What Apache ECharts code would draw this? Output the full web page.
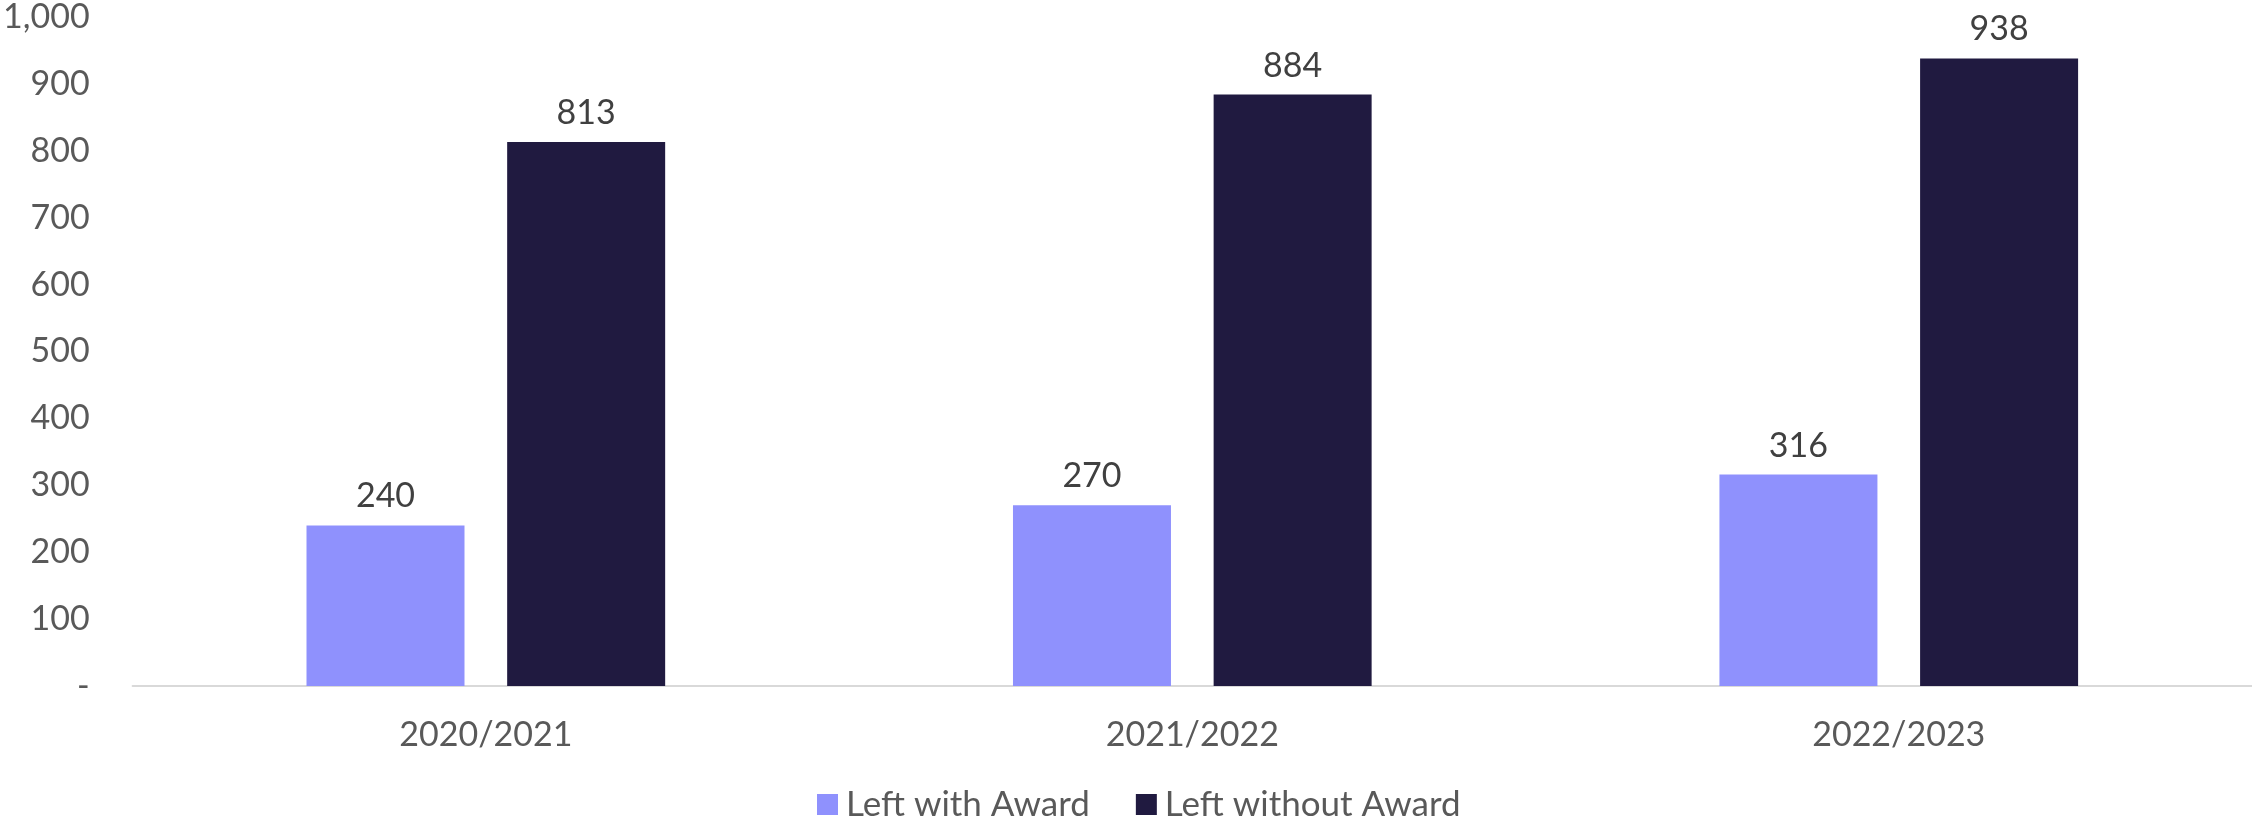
<!DOCTYPE html>
<html>
<head>
<meta charset="utf-8">
<script src="https://cdn.jsdelivr.net/npm/echarts@6/dist/echarts.min.js"></script>
<style>
html,body{margin:0;padding:0;background:#fff;}
#chart{width:2252px;height:820px;}
</style>
</head>
<body>
<div id="chart"></div>
<script>
const categories = ['2020/2021', '2021/2022', '2022/2023'];
const seriesNames = ['Left with Award', 'Left without Award'];
const leftWithAward = [240, 270, 316];
const leftWithoutAward = [813, 884, 938];
const yTicks = [0, 100, 200, 300, 400, 500, 600, 700, 800, 900, 1000];

const FONT = 'Lato';
const chart = echarts.init(document.getElementById('chart'), null, {renderer: 'canvas'});
chart.setOption({
  animation: false,
  backgroundColor: '#ffffff',
  textStyle: {fontFamily: FONT},
  grid: {left: 131, right: 0, top: 15.5, bottom: 134, containLabel: false},
  legend: {
    data: seriesNames,
    left: 812,
    top: 782,
    itemWidth: 21,
    itemHeight: 21,
    itemGap: 46,
    icon: 'rect',
    textStyle: {color: '#595959', fontSize: 35, fontFamily: FONT, padding: [0, 0, 0, 3]}
  },
  xAxis: {
    type: 'category',
    data: categories,
    axisLine: {show: true, lineStyle: {color: '#d9d9d9', width: 2}},
    axisTick: {show: false},
    axisLabel: {color: '#595959', fontSize: 34, fontFamily: FONT, margin: 32}
  },
  yAxis: {
    type: 'value',
    min: yTicks[0],
    max: yTicks[yTicks.length - 1],
    interval: 100,
    splitLine: {show: false},
    axisLine: {show: false},
    axisTick: {show: false},
    axisLabel: {
      color: '#595959', fontSize: 34, fontFamily: FONT, margin: 43,
      formatter: v => v === 0 ? '-' : v.toLocaleString('en-US')
    }
  },
  series: [
    {
      name: seriesNames[0],
      type: 'bar',
      data: leftWithAward,
      barWidth: 158,
      barGap: '27%',
      itemStyle: {color: '#8f91fd'},
      label: {show: true, position: 'top', distance: 12, color: '#404040', fontSize: 34, fontFamily: FONT}
    },
    {
      name: seriesNames[1],
      type: 'bar',
      data: leftWithoutAward,
      barWidth: 158,
      barGap: '27%',
      itemStyle: {color: '#201a40'},
      label: {show: true, position: 'top', distance: 12, color: '#404040', fontSize: 34, fontFamily: FONT}
    }
  ]
});
</script>
</body>
</html>
